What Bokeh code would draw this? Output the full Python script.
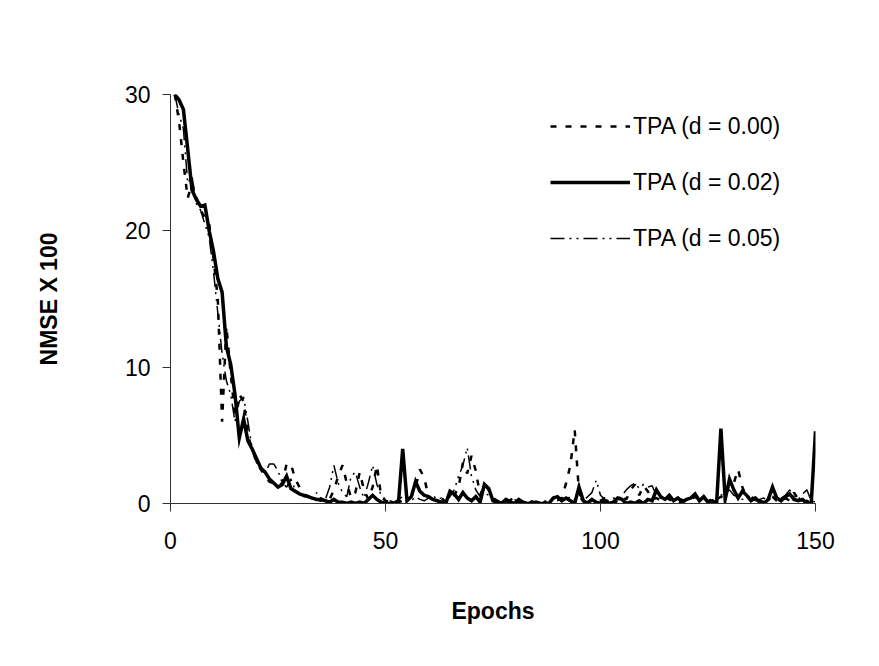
from bokeh.plotting import figure
from bokeh.models import Legend, LegendItem, FixedTicker
from bokeh.embed import file_html
from bokeh.resources import INLINE

epochs = list(range(1, 151))

tpa_d000 = [
    30.0, 28.0, 25.0, 22.4, 23.5, 22.5, 21.5, 21.0, 20.5, 18.0,
    15.0, 6.0, 13.0, 9.5, 6.5, 8.0, 7.5, 5.0, 4.0, 3.0,
    2.5, 2.0, 1.6, 1.5, 1.3, 1.5, 2.9, 2.9, 1.8, 1.2,
    0.7, 0.5, 0.4, 0.3, 0.2, 0.5, 0.3, 1.0, 2.0, 2.8,
    1.5, 0.4, 0.8, 2.3, 1.0, 0.3, 1.2, 2.8, 0.5, 0.2,
    0.1, 0.0, 0.2, 0.1, 0.3, 0.5, 1.2, 2.5, 1.9, 0.5,
    0.3, 0.2, 0.4, 0.1, 0.3, 0.6, 1.2, 3.0, 2.2, 3.5,
    2.4, 0.6, 1.4, 1.0, 0.4, 0.2, 0.1, 0.3, 0.2, 0.6,
    0.1, 0.0, 0.2, 0.0, 0.1, 0.0, 0.1, 0.0, 0.2, 0.3,
    0.4, 1.5, 2.8, 5.4, 0.8, 0.2, 0.1, 0.3, 0.1, 0.2,
    0.4, 0.1, 0.0, 0.2, 0.5, 0.3, 1.0, 1.4, 0.6, 1.3,
    0.9, 0.3, 0.4, 0.2, 0.5, 0.3, 0.1, 0.2, 0.0, 0.1,
    0.3, 0.5, 0.2, 0.4, 0.1, 0.2, 0.3, 0.5, 0.4, 1.5,
    1.5, 2.5, 1.2, 0.4, 0.3, 0.6, 0.2, 0.1, 0.3, 0.5,
    0.2, 0.1, 0.4, 0.2, 0.8, 0.3, 0.1, 0.2, 0.0, 0.1,
]

tpa_d002 = [
    30.0, 29.6, 28.9, 26.0, 23.0, 22.3, 21.8, 21.9, 20.0, 18.5,
    16.5, 15.5, 11.5, 10.2, 8.0, 4.8, 6.2, 4.6, 4.0, 3.3,
    2.6, 2.3, 1.8, 1.5, 1.2, 1.4, 2.0, 1.1, 0.9, 0.7,
    0.6, 0.5, 0.4, 0.3, 0.3, 0.2, 0.1, 0.3, 0.1, 0.1,
    0.0, 0.1, 0.0, 0.1, 0.0, 0.3, 0.6, 0.3, 0.1, 0.0,
    0.0, 0.0, 0.0, 4.0, 0.2, 0.5, 1.6, 0.9, 0.6, 0.5,
    0.3, 0.2, 0.1, 0.0, 0.9, 0.7, 0.3, 0.8, 0.4, 0.2,
    0.5, 0.1, 1.4, 1.1, 0.2, 0.1, 0.0, 0.2, 0.1, 0.0,
    0.3, 0.1, 0.0, 0.0, 0.1, 0.0, 0.0, 0.0, 0.4, 0.5,
    0.2, 0.4, 0.2, 0.0, 1.2, 0.2, 0.0, 0.3, 0.1, 0.0,
    0.2, 0.0, 0.1, 0.4, 0.3, 0.0, 0.1, 0.0, 0.2, 0.0,
    0.3, 0.2, 1.0, 0.5, 0.3, 0.6, 0.2, 0.4, 0.1, 0.3,
    0.4, 0.7, 0.2, 0.5, 0.1, 0.2, 0.0, 5.5, 0.3, 1.8,
    1.0, 0.4, 0.9, 0.6, 0.2, 0.4, 0.1, 0.0, 0.3, 1.2,
    0.4, 0.2, 0.5, 0.7, 0.3, 0.2, 0.3, 0.0, 0.0, 5.3,
]

tpa_d005 = [
    30.0, 28.5, 27.5, 23.5, 24.0, 22.0, 21.5, 20.5, 19.5, 17.0,
    14.0, 11.0, 9.0, 8.0, 6.0, 7.5, 7.8, 6.0, 4.0, 3.0,
    2.5, 2.2, 2.9, 2.9, 2.4, 1.5, 1.2, 1.8, 1.0, 0.8,
    0.5, 0.6, 0.3, 0.8, 0.4, 0.3, 1.2, 2.8, 1.5, 0.8,
    0.5, 2.0, 2.3, 1.2, 0.4, 1.5, 2.8, 1.4, 0.6, 0.3,
    0.2, 0.1, 0.3, 0.5, 0.4, 0.2, 0.5, 0.3, 0.2, 0.4,
    0.6, 0.3, 0.4, 0.2, 0.5, 1.0, 2.0, 2.8, 4.1, 2.0,
    1.0, 0.5, 0.8, 0.6, 0.3, 0.2, 0.1, 0.4, 0.2, 0.3,
    0.1, 0.1, 0.0, 0.2, 0.1, 0.0, 0.2, 0.1, 0.3, 0.2,
    0.4, 0.3, 0.5, 0.3, 0.4, 0.2, 0.5, 0.8, 1.7, 0.6,
    0.3, 0.2, 0.4, 0.3, 0.6, 1.0, 1.3, 1.5, 1.1, 1.4,
    1.2, 1.3, 0.6, 0.4, 0.3, 0.5, 0.2, 0.4, 0.3, 0.2,
    0.4, 0.6, 0.3, 0.5, 0.2, 0.4, 0.3, 0.6, 0.8, 1.0,
    0.6, 0.5, 0.3, 0.4, 0.6, 0.2, 0.3, 0.4, 0.2, 0.5,
    0.3, 0.4, 0.6, 1.0, 0.5, 0.3, 0.7, 1.0, 0.2, 0.1,
]

series_labels = ["TPA (d = 0.00)", "TPA (d = 0.02)", "TPA (d = 0.05)"]
x_ticks = [0, 50, 100, 150]
y_ticks = [0, 10, 20, 30]

FONT = "Liberation Sans"

p = figure(
    width=879, height=666,
    x_range=(0, 150), y_range=(0, 30),
    output_backend="svg", toolbar_location=None,
    min_border_left=170, min_border_right=64,
    min_border_top=94, min_border_bottom=163,
)
p.outline_line_color = None
p.background_fill_color = "white"
p.border_fill_color = "white"
p.xgrid.visible = False
p.ygrid.visible = False

r0 = p.line(epochs, tpa_d000, line_color="black", line_width=2.5, line_dash="6 9")
r5 = p.line(epochs, tpa_d005, line_color="black", line_width=1.5, line_dash="14 5 2 5 2 5")
r2 = p.line(epochs, tpa_d002, line_color="black", line_width=3.5, line_join="miter")

for ax, ticks in ((p.xaxis[0], x_ticks), (p.yaxis[0], y_ticks)):
    ax.ticker = FixedTicker(ticks=ticks)
    ax.minor_tick_line_color = None
    ax.major_tick_in = 0
    ax.major_tick_out = 8
    ax.axis_line_color = "#333333"
    ax.major_tick_line_color = "#333333"
    ax.major_label_text_font = FONT
    ax.major_label_text_font_size = "23px"
    ax.major_label_text_color = "black"
    ax.axis_label_text_font = FONT
    ax.axis_label_text_font_size = "23px"
    ax.axis_label_text_font_style = "bold"
    ax.axis_label_text_color = "black"

p.xaxis[0].axis_label = "Epochs"
p.xaxis[0].major_label_standoff = 20
p.xaxis[0].axis_label_standoff = 46
p.yaxis[0].axis_label = "NMSE X 100"
p.yaxis[0].major_label_standoff = 12
p.yaxis[0].axis_label_standoff = 60

legend = Legend(
    items=[
        LegendItem(label=series_labels[0], renderers=[r0]),
        LegendItem(label=series_labels[1], renderers=[r2]),
        LegendItem(label=series_labels[2], renderers=[r5]),
    ],
    location=(380, 250),
    glyph_width=80, glyph_height=30, label_height=30,
    spacing=26, label_standoff=3, padding=0, margin=0,
    border_line_color=None, background_fill_alpha=0,
    label_text_font=FONT, label_text_font_size="23px", label_text_color="black",
)
p.add_layout(legend)

open("out.html", "w").write(file_html(p, INLINE))
